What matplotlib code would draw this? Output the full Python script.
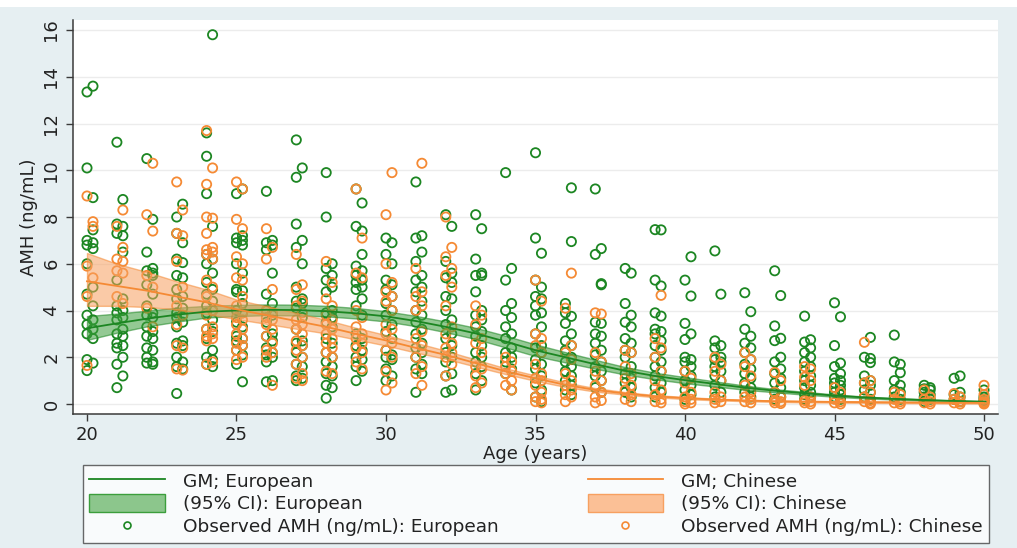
import numpy as np
import matplotlib
matplotlib.use("Agg")
import matplotlib.pyplot as plt
from matplotlib.patches import Rectangle, Patch
from matplotlib.lines import Line2D

plt.rcParams['font.family'] = ['DejaVu Sans']

# observed AMH, grouped by (rounded) age; each age has two sub-columns
eu_ages = [20.0, 20.2, 21.0, 21.2, 22.0, 22.2, 23.0, 23.2, 24.0, 24.2,
           25.0, 25.2, 26.0, 26.2, 27.0, 27.2, 28.0, 28.2, 29.0, 29.2,
           30.0, 30.2, 31.0, 31.2, 32.0, 32.2, 33.0, 33.2, 34.0, 34.2,
           35.0, 35.2, 36.0, 36.2, 37.0, 37.2, 38.0, 38.2, 39.0, 39.2,
           40.0, 40.2, 41.0, 41.2, 42.0, 42.2, 43.0, 43.2, 44.0, 44.2,
           45.0, 45.2, 46.0, 46.2, 47.0, 47.2, 48.0, 48.2, 49.0, 49.2, 50.0]
eu_amh = [
    [13.35, 10.1, 7.0, 6.8, 6.0, 4.7, 3.8, 3.4, 3.0, 1.9, 1.43],
    [13.6, 8.83, 7.45, 6.9, 6.65, 5.0, 4.2, 3.6, 3.2, 2.8, 1.75],
    [11.2, 7.7, 7.3, 5.3, 4.2, 3.9, 3.6, 3.0, 2.6, 2.4, 1.7, 0.7],
    [8.75, 7.6, 7.2, 6.5, 4.5, 4.0, 3.7, 3.2, 2.9, 2.5, 2.0, 1.2],
    [10.5, 6.5, 5.7, 5.1, 4.2, 3.8, 3.3, 2.9, 2.4, 2.0, 1.75],
    [7.9, 5.8, 5.6, 5.5, 4.7, 3.9, 3.7, 3.1, 2.8, 2.3, 1.8, 1.7],
    [8.0, 7.3, 6.2, 5.5, 4.9, 4.5, 3.9, 3.7, 3.3, 2.6, 2.0, 1.6, 0.45],
    [8.55, 6.9, 6.05, 5.4, 4.6, 4.1, 3.8, 3.5, 2.7, 2.5, 1.8, 1.5],
    [11.6, 10.6, 9.0, 6.4, 6.0, 5.2, 4.7, 4.2, 3.9, 3.2, 2.8, 2.0, 1.7],
    [15.8, 7.6, 6.2, 5.6, 4.9, 4.4, 4.0, 3.6, 3.1, 2.3, 1.9, 1.6],
    [9.0, 7.1, 6.9, 6.0, 4.9, 4.8, 4.0, 3.5, 2.9, 2.7, 2.3, 1.7],
    [9.2, 7.2, 7.0, 6.8, 5.6, 4.85, 4.3, 3.9, 3.3, 2.8, 2.5, 2.1, 0.95],
    [9.1, 6.9, 6.6, 4.7, 4.0, 3.5, 2.9, 2.4, 2.1, 1.8, 0.95],
    [7.0, 6.8, 5.6, 4.3, 3.8, 3.0, 2.7, 2.2, 2.0, 1.0],
    [11.3, 9.7, 7.7, 6.7, 5.0, 4.4, 4.1, 3.2, 2.6, 2.2, 1.7, 1.2, 1.0],
    [10.1, 7.0, 6.0, 4.5, 4.3, 3.7, 2.7, 2.5, 2.0, 1.6, 1.1],
    [9.9, 8.0, 5.8, 5.3, 4.8, 3.9, 3.5, 2.8, 2.2, 1.8, 1.3, 0.8, 0.25],
    [6.0, 5.5, 5.0, 4.0, 3.7, 3.3, 2.6, 2.0, 1.6, 1.2, 0.7],
    [9.2, 7.6, 5.9, 5.5, 5.2, 4.9, 4.2, 3.0, 2.5, 2.0, 1.6, 1.0],
    [8.6, 7.4, 6.4, 5.7, 5.3, 5.0, 4.5, 3.8, 2.8, 2.3, 1.9, 1.4],
    [7.1, 6.4, 5.3, 4.9, 4.3, 3.8, 3.1, 2.3, 2.0, 1.5, 1.0],
    [6.9, 6.0, 5.1, 4.6, 4.0, 3.4, 2.8, 2.1, 1.9, 1.2],
    [9.5, 7.1, 6.1, 5.3, 4.8, 4.0, 3.5, 3.0, 2.4, 2.0, 1.5, 0.5],
    [7.2, 6.5, 5.5, 5.0, 4.4, 3.8, 3.2, 2.6, 2.2, 1.7, 1.3],
    [8.1, 6.1, 5.4, 4.6, 4.0, 3.4, 2.8, 2.2, 1.8, 1.2, 0.5],
    [7.6, 5.6, 5.2, 4.5, 3.6, 3.0, 2.5, 2.0, 1.3, 0.6],
    [8.1, 6.2, 5.5, 4.8, 3.8, 3.3, 2.9, 2.2, 1.8, 1.3, 0.6],
    [7.5, 5.6, 5.5, 4.0, 3.6, 3.1, 2.5, 2.0, 1.6, 1.0],
    [9.9, 5.3, 4.0, 3.3, 2.8, 2.2, 1.8, 1.3],
    [5.8, 4.3, 3.7, 3.0, 2.4, 2.0, 1.5, 0.6],
    [10.75, 7.1, 5.3, 4.6, 4.2, 3.8, 3.0, 2.4, 1.9, 1.5, 0.9, 0.3],
    [6.45, 5.0, 4.5, 3.9, 3.3, 2.5, 2.2, 1.7, 1.2, 0.6, 0.1],
    [4.3, 3.9, 3.45, 2.7, 2.3, 1.8, 1.4, 1.0, 0.6],
    [9.25, 6.95, 3.75, 3.0, 2.5, 2.0, 1.6, 1.2, 0.8, 0.4],
    [9.2, 6.4, 3.5, 3.0, 2.6, 2.1, 1.6, 1.2, 0.7],
    [6.65, 5.15, 5.1, 3.45, 2.9, 2.3, 1.8, 1.4, 1.0, 0.5],
    [5.8, 4.3, 3.5, 2.8, 2.3, 2.0, 1.3, 0.9, 0.5],
    [5.6, 3.8, 3.3, 2.6, 2.2, 1.6, 1.1, 0.7, 0.3],
    [7.46, 5.3, 3.9, 3.2, 3.0, 2.5, 2.0, 1.6, 1.2, 0.7, 0.3],
    [7.45, 5.05, 3.76, 3.1, 2.7, 2.3, 1.8, 1.4, 0.9, 0.5],
    [5.3, 3.45, 2.76, 2.0, 1.8, 1.4, 1.0, 0.6, 0.2],
    [6.3, 4.62, 3.0, 1.9, 1.6, 1.2, 0.8, 0.4],
    [6.55, 2.7, 2.4, 1.9, 1.6, 1.2, 0.8, 0.3],
    [4.7, 2.5, 2.0, 1.8, 1.4, 1.0, 0.5],
    [4.76, 3.2, 2.6, 2.2, 1.7, 1.3, 0.9, 0.5],
    [3.95, 2.9, 2.4, 1.9, 1.5, 1.1, 0.7, 0.3],
    [5.7, 3.34, 2.71, 1.8, 1.3, 0.9, 0.5, 0.2],
    [4.64, 2.81, 2.0, 1.5, 1.1, 0.7, 0.3],
    [3.76, 2.65, 2.2, 1.8, 1.4, 1.0, 0.7, 0.4, 0.2],
    [2.75, 2.4, 2.0, 1.6, 1.2, 0.8, 0.5, 0.3],
    [4.33, 2.5, 1.6, 1.1, 0.9, 0.7, 0.5, 0.3],
    [3.73, 1.75, 1.3, 1.0, 0.8, 0.6, 0.4, 0.2],
    [2.0, 1.2, 0.9, 0.6, 0.3],
    [2.85, 1.95, 1.77, 1.0, 0.8, 0.5, 0.2],
    [2.95, 1.8, 1.0, 0.6, 0.3],
    [1.7, 1.34, 0.8, 0.5, 0.2],
    [0.8, 0.65, 0.5, 0.3, 0.1],
    [0.7, 0.6, 0.4, 0.2],
    [1.1, 0.4, 0.2],
    [1.2, 0.5, 0.3, 0.1],
    [0.6, 0.3, 0.2, 0.1],
]

cn_ages = [20.0, 20.2, 21.0, 21.2, 22.0, 22.2, 23.0, 23.2, 24.0, 24.2,
           25.0, 25.2, 26.0, 26.2, 27.0, 27.2, 28.0, 28.2, 29.0, 29.2,
           30.0, 30.2, 31.0, 31.2, 32.0, 32.2, 33.0, 33.2, 34.0, 34.2,
           35.0, 35.2, 36.0, 36.2, 37.0, 37.2, 38.0, 38.2, 39.0, 39.2,
           40.0, 40.2, 41.0, 41.2, 42.0, 42.2, 43.0, 43.2, 44.0, 44.2,
           45.0, 45.2, 46.0, 46.2, 47.0, 47.2, 48.0, 48.2, 49.0, 49.2, 50.0]
cn_amh = [
    [8.9, 5.9, 4.6, 1.65],
    [7.8, 7.6, 5.4],
    [7.6, 6.2, 5.7, 4.6],
    [8.3, 6.7, 6.1, 5.6, 4.3],
    [8.1, 5.5, 4.1],
    [10.3, 7.4, 5.0, 3.3],
    [9.5, 7.3, 6.1, 4.2, 3.4, 2.5, 1.5],
    [8.3, 7.2, 5.0, 3.8, 2.4, 1.45],
    [11.7, 9.4, 8.0, 7.3, 6.6, 6.4, 5.3, 4.6, 3.8, 3.2, 2.9, 2.7, 1.7],
    [10.1, 7.95, 6.7, 6.5, 6.2, 5.0, 4.0, 3.3, 3.0, 2.8, 1.8],
    [9.5, 7.9, 6.3, 5.4, 4.2, 3.7, 3.4, 3.0, 2.6, 2.3, 1.9],
    [9.2, 7.5, 6.0, 5.3, 4.6, 3.9, 3.6, 3.2, 2.8, 2.5, 2.0],
    [7.5, 6.2, 4.0, 3.7, 3.4, 2.9, 2.3, 2.0],
    [6.7, 4.9, 3.9, 3.6, 3.2, 2.6, 2.2, 0.8],
    [6.4, 4.9, 4.2, 3.6, 3.2, 2.7, 2.3, 1.7, 1.1],
    [5.1, 4.4, 3.9, 3.4, 3.0, 2.5, 2.0, 1.3, 1.0],
    [6.1, 4.5, 3.8, 3.4, 3.0, 2.6, 2.2, 1.4],
    [5.2, 4.2, 3.6, 3.2, 2.8, 2.4, 2.0, 1.3],
    [9.2, 5.6, 4.0, 3.3, 2.8, 2.4, 1.8],
    [7.1, 5.4, 3.7, 3.0, 2.6, 2.2, 1.5],
    [8.1, 6.0, 4.8, 4.4, 3.4, 3.0, 2.3, 1.4, 0.6],
    [9.9, 5.2, 4.6, 4.0, 3.2, 2.6, 2.0, 0.9],
    [5.8, 4.6, 4.0, 2.8, 2.0, 1.3],
    [10.3, 4.8, 4.2, 3.1, 2.5, 1.6, 0.8],
    [8.0, 6.3, 5.5, 4.2, 3.0, 2.4, 2.0, 1.2],
    [6.7, 5.8, 5.0, 3.3, 2.6, 2.2, 1.7],
    [4.2, 3.4, 2.6, 1.6, 1.2, 0.7],
    [3.8, 2.8, 2.2, 1.5, 0.9],
    [2.0, 1.6, 1.3, 0.8],
    [1.8, 1.4, 1.0, 0.6],
    [5.3, 3.0, 2.5, 1.7, 1.1, 0.8, 0.3, 0.1],
    [4.4, 2.8, 2.2, 1.3, 1.0, 0.5, 0.2, 0.05],
    [4.1, 2.2, 1.3, 0.8, 0.4, 0.1],
    [5.6, 2.5, 1.9, 1.0, 0.6, 0.3],
    [3.9, 2.2, 1.4, 0.8, 0.3, 0.05],
    [3.85, 1.8, 1.0, 0.5, 0.15],
    [2.3, 1.6, 1.1, 0.6, 0.2],
    [2.2, 1.3, 0.8, 0.4, 0.1],
    [2.8, 2.0, 1.0, 0.4, 0.1],
    [4.65, 2.4, 1.4, 0.6, 0.2, 0.05],
    [1.4, 0.9, 0.3, 0.1, 0.0],
    [1.1, 0.5, 0.2, 0.05],
    [2.0, 1.4, 0.5, 0.2, 0.05],
    [1.7, 1.0, 0.3, 0.1],
    [2.2, 1.6, 0.8, 0.3, 0.1],
    [1.9, 1.2, 0.5, 0.2, 0.05],
    [1.35, 0.5, 0.15, 0.05],
    [1.0, 0.3, 0.1, 0.02],
    [1.6, 1.15, 0.8, 0.15, 0.05],
    [1.5, 1.0, 0.3, 0.1, 0.0],
    [0.7, 0.2, 0.05],
    [0.5, 0.1, 0.0],
    [2.64, 0.9, 0.3, 0.1],
    [1.0, 0.5, 0.15, 0.05, 0.0],
    [0.5, 0.2, 0.05],
    [0.4, 0.1, 0.0],
    [0.6, 0.2, 0.05],
    [0.3, 0.1, 0.0],
    [0.45, 0.2, 0.05],
    [0.3, 0.1, 0.0],
    [0.8, 0.4, 0.2, 0.1, 0.05, 0.0],
]

# fitted geometric means with 95% CI
fit_age = list(range(20, 51))
eu_gm = [3.24, 3.45, 3.65, 3.82, 3.95, 4.0, 4.03, 4.02, 3.97, 3.88, 3.75,
         3.55, 3.3, 3.02, 2.67, 2.3, 2.0, 1.7, 1.42, 1.2, 1.02,
         0.86, 0.7, 0.57, 0.46, 0.36, 0.28, 0.22, 0.17, 0.13, 0.1]
eu_lo = [2.74, 3.05, 3.32, 3.52, 3.7, 3.76, 3.8, 3.79, 3.75, 3.66, 3.53,
         3.33, 3.07, 2.78, 2.42, 2.05, 1.78, 1.51, 1.26, 1.06, 0.89,
         0.75, 0.61, 0.5, 0.4, 0.31, 0.24, 0.19, 0.14, 0.11, 0.08]
eu_hi = [3.76, 3.87, 3.99, 4.12, 4.2, 4.24, 4.26, 4.25, 4.2, 4.11, 3.97,
         3.77, 3.53, 3.26, 2.92, 2.55, 2.22, 1.89, 1.58, 1.34, 1.15,
         0.97, 0.79, 0.64, 0.52, 0.41, 0.32, 0.25, 0.2, 0.15, 0.12]
cn_gm = [5.25, 5.05, 4.85, 4.6, 4.35, 4.05, 3.8, 3.55, 3.3, 3.0, 2.72,
         2.4, 2.1, 1.75, 1.4, 1.1, 0.82, 0.6, 0.45, 0.33, 0.25,
         0.19, 0.15, 0.12, 0.1, 0.09, 0.08, 0.07, 0.06, 0.05, 0.05]
cn_lo = [4.2, 4.2, 4.15, 4.05, 3.85, 3.63, 3.43, 3.22, 3.02, 2.76, 2.5,
         2.2, 1.93, 1.6, 1.28, 0.99, 0.73, 0.53, 0.4, 0.29, 0.21,
         0.16, 0.12, 0.09, 0.07, 0.06, 0.05, 0.04, 0.03, 0.02, 0.02]
cn_hi = [6.46, 6.0, 5.65, 5.25, 4.9, 4.47, 4.18, 3.9, 3.6, 3.26, 2.95,
         2.62, 2.28, 1.9, 1.53, 1.22, 0.92, 0.68, 0.51, 0.38, 0.3,
         0.23, 0.18, 0.15, 0.13, 0.12, 0.11, 0.1, 0.09, 0.09, 0.09]

green = '#1c8622'
orange = '#f58a34'
bg = '#e6eff2'

fig = plt.figure(figsize=(10.17, 5.48), dpi=100, facecolor=bg)
fig.patches.append(Rectangle((0, 1 - 7 / 548), 1, 7 / 548, transform=fig.transFigure,
                             facecolor='white', edgecolor='none', zorder=-1))
ax = fig.add_axes([73 / 1017, 1 - 414 / 548, 925 / 1017, 394 / 548])
ax.set_facecolor('white')

eu_x = np.repeat(eu_ages, [len(v) for v in eu_amh])
eu_y = np.concatenate(eu_amh)
cn_x = np.repeat(cn_ages, [len(v) for v in cn_amh])
cn_y = np.concatenate(cn_amh)

ax.scatter(eu_x, eu_y, s=44, facecolors='none', edgecolors=green, linewidths=1.3, zorder=2)
ax.scatter(cn_x, cn_y, s=44, facecolors='none', edgecolors=orange, linewidths=1.3, zorder=2)

ax.fill_between(fit_age, eu_lo, eu_hi, facecolor='#3c9e3c', edgecolor=green,
                alpha=0.55, lw=1, zorder=3)
ax.fill_between(fit_age, cn_lo, cn_hi, facecolor='#f7a060', edgecolor=orange,
                alpha=0.55, lw=1, zorder=3)
ax.plot(fit_age, eu_gm, color=green, lw=1.3, zorder=4)
ax.plot(fit_age, cn_gm, color=orange, lw=1.3, zorder=4)

ax.set_xlim(19.532, 50.468)
ax.set_ylim(-0.428, 16.43)
ax.set_xticks([20, 25, 30, 35, 40, 45, 50])
ax.set_yticks(range(0, 17, 2))
ax.yaxis.grid(True, color='#ececec', lw=1)
ax.set_axisbelow(True)
for s in ['top', 'right']:
    ax.spines[s].set_visible(False)
for s in ['left', 'bottom']:
    ax.spines[s].set_color('#3a3a3a')
    ax.spines[s].set_linewidth(1.1)
ax.tick_params(axis='both', colors='#3a3a3a', length=5, width=1, labelsize=13,
               labelcolor='#222222')
ax.tick_params(axis='y', pad=4)
for lab in ax.get_yticklabels():
    lab.set_rotation(90)
    lab.set_va('center')
ax.set_xlabel('Age (years)', fontsize=13, color='#222222', labelpad=1)
ax.set_ylabel('AMH (ng/mL)', fontsize=13, color='#222222', labelpad=3)

handles = [
    Line2D([], [], color=green, lw=1.3),
    Patch(facecolor='#8cc68c', edgecolor='#3c9e3c', lw=1),
    Line2D([], [], ls='none', marker='o', markersize=5, markerfacecolor='none',
           markeredgecolor=green, markeredgewidth=1.2),
    Line2D([], [], color=orange, lw=1.3),
    Patch(facecolor='#fbc096', edgecolor='#f7a060', lw=1),
    Line2D([], [], ls='none', marker='o', markersize=5, markerfacecolor='none',
           markeredgecolor=orange, markeredgewidth=1.2),
]
labels = ['GM; European', '(95% CI): European', 'Observed AMH (ng/mL): European',
          'GM; Chinese', '(95% CI): Chinese', 'Observed AMH (ng/mL): Chinese']
leg = fig.legend(handles, labels, ncol=2, loc='upper center',
                 bbox_to_anchor=(83 / 1017, 0, 906 / 1017, 1 - 465 / 548),
                 mode='expand', borderaxespad=0, fontsize=13.3, frameon=True,
                 fancybox=False, edgecolor='#444444', handlelength=4.1,
                 handleheight=1.1, handletextpad=0.95, labelspacing=0.2,
                 borderpad=0.35)
leg.get_frame().set_linewidth(1)
for t in leg.get_texts():
    t.set_color('#222222')

fig.savefig('out.png', dpi=100, facecolor=bg)
